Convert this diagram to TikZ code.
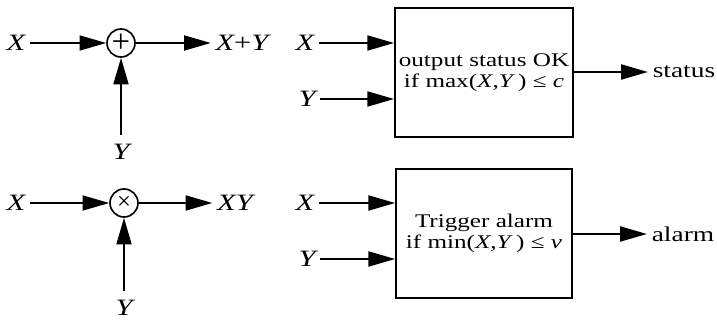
\documentclass[tikz,border=0pt]{standalone}
\usepackage{fontspec}
\setmainfont{Liberation Serif}[FakeStretch=1.3]
\newfontfamily\opfont{Liberation Serif}
\usetikzlibrary{arrows.meta, positioning}

\begin{document}
\begin{tikzpicture}[
  x=0.03cm, y=-0.03cm,
  sig/.style={-{Triangle[length=0.8cm, width=0.45cm]}, line width=1.6pt},
  var/.style={inner sep=4pt, font=\fontsize{20}{22}\selectfont\itshape},
  outlabel/.style={inner sep=4pt, font=\fontsize{18}{20}\selectfont},
  op/.style={circle, draw, line width=1.4pt, minimum size=0.84cm,
             inner sep=0pt, font=\opfont\fontsize{28}{28}\selectfont},
  logic/.style={rectangle, draw, line width=1.5pt, minimum width=5.28cm,
                minimum height=3.87cm, align=center,
                font=\fontsize{16.5}{18}\selectfont}
]
\useasboundingbox (0,0) rectangle (717,321);

% adder
\node[op] (plusop) at (121,43) {+};
\node[var] (xsum) at (16,43) {X};
\node[var] (ysum) at (121,152) {Y};
\node[var] (sumout) at (242,43) {X{\upshape +}Y};
\draw[sig] (xsum) -- (plusop);
\draw[sig, shorten <=4pt] (ysum) -- (plusop);
\draw[sig] (plusop) -- (sumout);

% multiplier
\node[op, font=\opfont\fontsize{21}{21}\selectfont] (timesop) at (124,203) {×};
\node[var] (xprod) at (16,203) {X};
\node[var] (yprod) at (124,308) {Y};
\node[var] (prodout) at (235,203) {XY};
\draw[sig] (xprod) -- (timesop);
\draw[sig, shorten <=4pt] (yprod) -- (timesop);
\draw[sig] (timesop) -- (prodout);

% status check
\node[logic] (okbox) at (484,72.5) {
  output status OK\\
  if max(\textit{X},\textit{Y}\,) ≤~\textit{c}
};
\node[var] (xok) at (305,43) {X};
\node[var] (yok) at (307,99) {Y};
\node[outlabel] (status) at (684,72) {status};
\draw[sig] (xok) -- (okbox.west |- xok);
\draw[sig] (yok) -- (okbox.west |- yok);
\draw[sig] (okbox.east |- status) -- (status);

% alarm
\node[logic] (alarmbox) at (484,233.5) {
  Trigger alarm\\
  if min(\textit{X},\textit{Y}\,) ≤~\textit{v}
};
\node[var] (xal) at (305,203) {X};
\node[var] (yal) at (307,259) {Y};
\node[outlabel] (alarm) at (683,234) {alarm};
\draw[sig] (xal) -- (alarmbox.west |- xal);
\draw[sig] (yal) -- (alarmbox.west |- yal);
\draw[sig] (alarmbox.east |- alarm) -- (alarm);

\end{tikzpicture}
\end{document}
